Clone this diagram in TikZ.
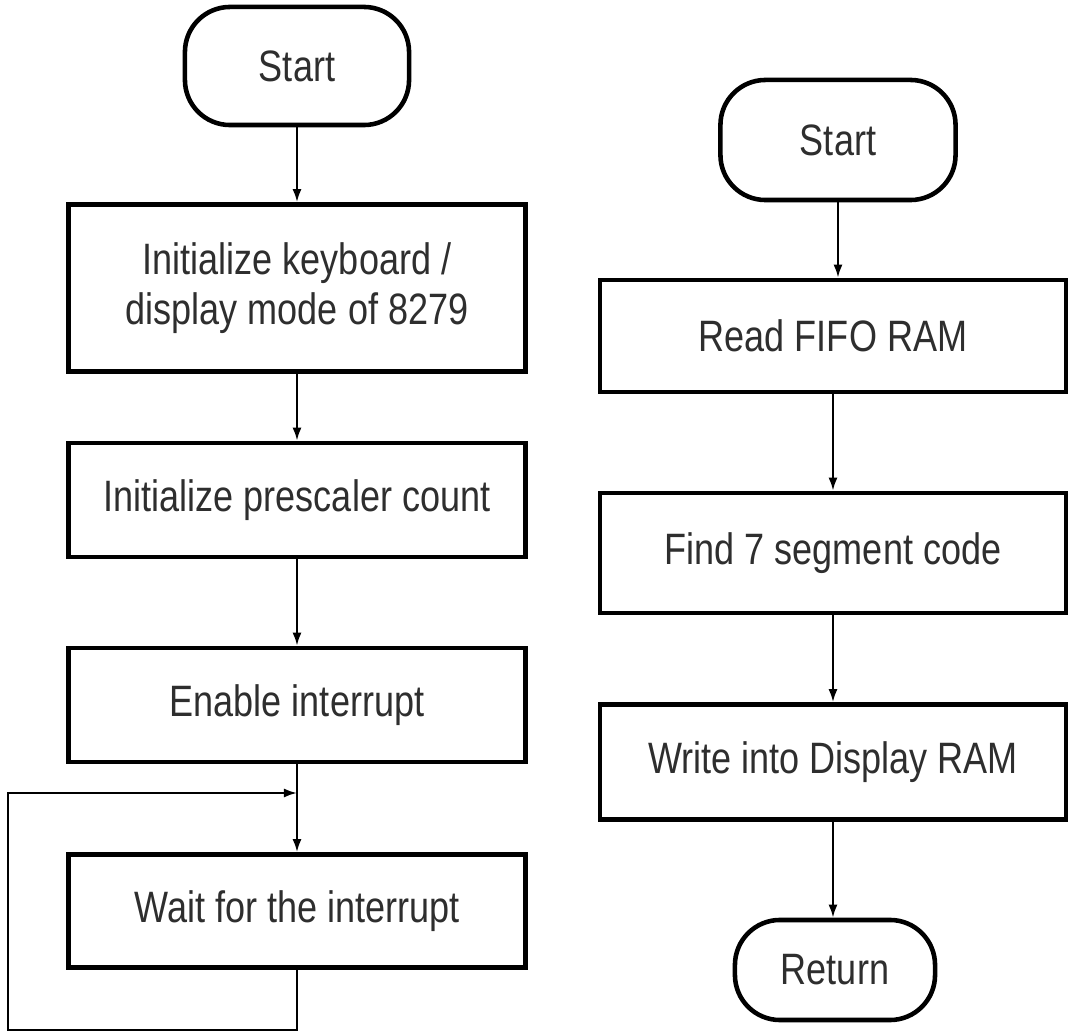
\documentclass[tikz,border=0pt]{standalone}
\usepackage{fontspec}
\setmainfont{Liberation Sans}[FakeStretch=0.82]
\usetikzlibrary{arrows.meta}
\begin{document}
\begin{tikzpicture}[x=0.01cm,y=-0.01cm,
  box/.style={draw, line width=1.3pt, rectangle, align=center, inner sep=0pt,
              text=black!82, font=\fontsize{12.5}{14.2}\selectfont},
  term/.style={box, rounded corners=0.45cm},
  flow/.style={line width=0.6pt, -{Latex[length=0.13cm,width=0.09cm]}}]
\useasboundingbox (0,0) rectangle (1069,1034);

% Initialisation routine
\node[term, minimum width=2.24cm, minimum height=1.18cm] (s1) at (297,66) {Start};
\node[box, minimum width=4.57cm, minimum height=1.67cm] (b1) at (297,288)
  {Initialize keyboard /\\display mode of 8279};
\node[box, minimum width=4.57cm, minimum height=1.14cm] (b2) at (297,500)
  {Initialize prescaler count};
\node[box, minimum width=4.57cm, minimum height=1.14cm] (b3) at (297,705)
  {Enable interrupt};
\node[box, minimum width=4.57cm, minimum height=1.13cm] (b4) at (297,911)
  {Wait for the interrupt};

\draw[flow] (s1.south) -- (b1.north);
\draw[flow] (b1.south) -- (b2.north);
\draw[flow] (b2.south) -- (b3.north);
\draw[flow] (b3.south) -- (b4.north);

% endless wait loop
\coordinate (loopbot) at (8,1030);
\coordinate (looptop) at (8,793);
\draw[flow] (b4.south) |- (loopbot) -- (looptop) -- (looptop -| b4.north);

% Interrupt service routine
\node[term, minimum width=2.35cm, minimum height=1.2cm] (s2) at (838,140) {Start};
\node[box, minimum width=4.66cm, minimum height=1.12cm] (r1) at (833,336)
  {Read FIFO RAM};
\node[box, minimum width=4.66cm, minimum height=1.2cm] (r2) at (833,553)
  {Find 7 segment code};
\node[box, minimum width=4.66cm, minimum height=1.15cm] (r3) at (833,762)
  {Write into Display RAM};
\node[term, minimum width=2.0cm, minimum height=1.0cm] (ret) at (835,970) {Return};

\draw[flow] (s2.south) -- (s2.south |- r1.north);
\draw[flow] (r1.south) -- (r2.north);
\draw[flow] (r2.south) -- (r3.north);
\draw[flow] (r3.south) -- (r3.south |- ret.north);
\end{tikzpicture}
\end{document}
